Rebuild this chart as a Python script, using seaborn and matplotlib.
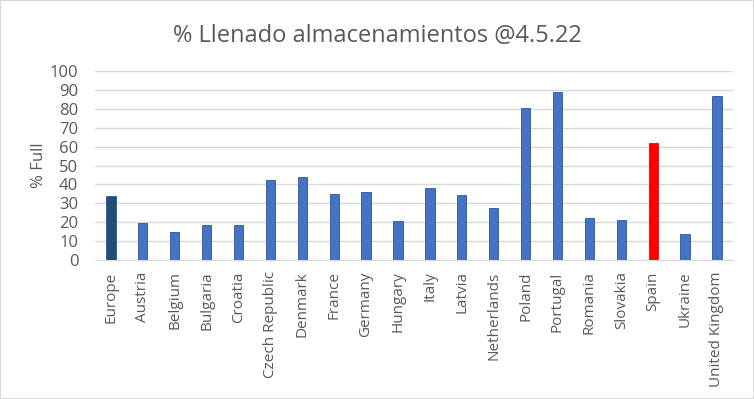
import pandas as pd
import matplotlib.pyplot as plt
import seaborn as sns

countries = ["Europe", "Austria", "Belgium", "Bulgaria", "Croatia", "Czech Republic",
             "Denmark", "France", "Germany", "Hungary", "Italy", "Latvia", "Netherlands",
             "Poland", "Portugal", "Romania", "Slovakia", "Spain", "Ukraine", "United Kingdom"]
pct_full = [34, 19.8, 15, 18.8, 18.8, 42.6, 44, 34.9, 35.8, 20.5, 37.9, 34.4, 27.4,
            80.4, 89, 22.5, 21.4, 61.8, 13.9, 86.7]

# Excel-ish colours: Europe dark, Spain red, rest standard blue
blue = "#4472C4"
colors = [blue] * len(countries)
colors[countries.index("Europe")] = "#1F4E79"
colors[countries.index("Spain")] = "#FF0000"

df = pd.DataFrame({"country": countries, "pct": pct_full})

sns.set_style("white")
plt.rcParams["font.family"] = ["Open Sans", "DejaVu Sans"]

fig = plt.figure(figsize=(7.54, 3.99), dpi=100)
ax = fig.add_axes([0.126, 0.348, 0.846, 0.474])

sns.barplot(data=df, x="country", y="pct", hue="country", palette=colors,
            width=0.29, legend=False, ax=ax, saturation=1,
            edgecolor="#2F5597", linewidth=0.6)
# keep Spain edge red
for patch, c in zip(ax.patches, colors):
    if c == "#FF0000":
        patch.set_edgecolor("#FF0000")

ax.set_ylim(0, 100)
ax.set_xlim(-0.5, len(countries) - 0.5)
ax.set_yticks(range(0, 101, 10))
ax.yaxis.grid(True, color="#D9D9D9", linewidth=1)
ax.set_axisbelow(True)
for s in ["top", "right", "left"]:
    ax.spines[s].set_visible(False)
ax.spines["bottom"].set_color("#D9D9D9")
ax.tick_params(axis="y", length=0, colors="#595959", labelsize=12, pad=12)
ax.tick_params(axis="x", length=0, colors="#595959", labelsize=11, pad=8)
plt.setp(ax.get_xticklabels(), rotation=90)
ax.set_xlabel("")
ax.set_ylabel("% Full", color="#595959", fontsize=12, labelpad=2)

fig.suptitle("% Llenado almacenamientos @4.5.22", x=0.5, y=0.94,
             color="#595959", fontsize=17)

# thin chart border like the Excel chart area
fig.patches.append(plt.Rectangle((0, 0), 1, 1, transform=fig.transFigure,
                                 fill=False, edgecolor="#D9D9D9", linewidth=1.5))

fig.savefig("out.png", dpi=100)
